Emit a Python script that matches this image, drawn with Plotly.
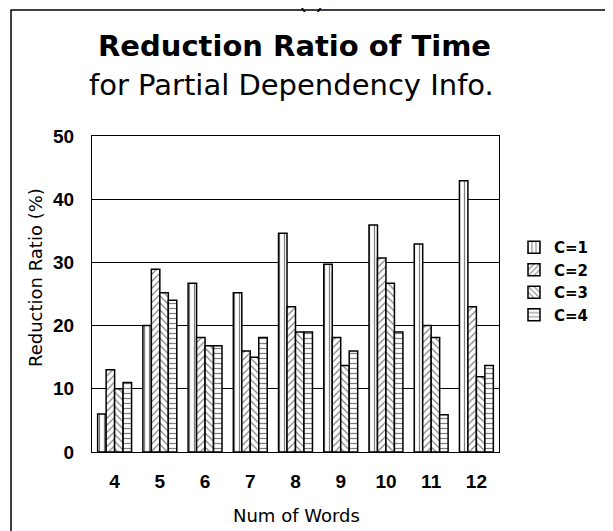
import plotly.graph_objects as go

categories = ["4", "5", "6", "7", "8", "9", "10", "11", "12"]
series_names = ["C=1", "C=2", "C=3", "C=4"]
c1 = [6, 20, 26.7, 25.2, 34.6, 29.7, 35.9, 32.9, 42.9]
c2 = [13, 28.9, 18.1, 16, 23, 18.1, 30.7, 20, 23]
c3 = [10, 25.2, 16.8, 15, 19, 13.7, 26.7, 18.1, 11.9]
c4 = [11, 24, 16.8, 18.1, 19, 16, 19, 5.9, 13.7]
series_values = [c1, c2, c3, c4]
patterns = ["|", "/", "\\", "-"]

FONT = "Liberation Sans, Arial, sans-serif"
DJ = "DejaVu Sans, sans-serif"

fig = go.Figure()
for name, vals, pat in zip(series_names, series_values, patterns):
    fig.add_trace(go.Bar(
        x=categories, y=vals, name=name,
        marker=dict(color="white",
                    line=dict(color="black", width=1.5),
                    pattern=dict(shape=pat, fgcolor="black", bgcolor="white",
                                 size=5, solidity=0.25, fillmode="overlay")),
    ))

# positions in viewport pixels; page body has an 8px margin
OFF = 8
L, R, T, B = 92, 499, 136, 452
W, H = 613, 531
pw, ph = R - L, B - T

def px(x):
    return (x - L) / pw

def py(y):
    return (B - y) / ph

fig.update_layout(
    width=W - OFF, height=H - OFF,
    margin=dict(l=L - OFF, r=W - R, t=T - OFF, b=H - B, pad=0),
    paper_bgcolor="white", plot_bgcolor="white",
    barmode="group", bargap=0.25, bargroupgap=0,
    font=dict(family=FONT, color="black"),
    showlegend=True,
    legend=dict(x=px(514), y=py(231), xanchor="left", yanchor="top",
                font=dict(size=15, family=DJ, weight="bold"),
                bgcolor="rgba(0,0,0,0)", tracegroupgap=0, itemwidth=30),
    xaxis=dict(showline=True, mirror=True, linecolor="black", linewidth=1,
               showgrid=False, ticks="", ticklabelstandoff=12,
               tickfont=dict(size=19, family=FONT, weight="bold")),
    yaxis=dict(range=[0, 50], dtick=10, showline=True, mirror=True,
               linecolor="black", linewidth=1, showgrid=True,
               gridcolor="black", gridwidth=1, ticks="", zeroline=False,
               ticklabelstandoff=13,
               tickfont=dict(size=19, family=FONT, weight="bold")),
    shapes=[dict(type="rect", xref="paper", yref="paper",
                 x0=px(11), x1=px(609), y0=py(560), y1=py(10),
                 line=dict(color="black", width=1.5), fillcolor="rgba(0,0,0,0)",
                 layer="below")],
    annotations=[
        dict(text="<b>Reduction Ratio of Time</b>", xref="paper", yref="paper",
             x=px(294), y=py(46), xanchor="center", yanchor="middle",
             showarrow=False, font=dict(size=29, family=DJ)),
        dict(text="for Partial Dependency Info.", xref="paper", yref="paper",
             x=px(291), y=py(85), xanchor="center", yanchor="middle",
             showarrow=False, font=dict(size=29, family=DJ)),
        dict(text="Reduction Ratio (%)", xref="paper", yref="paper",
             x=px(35), y=py(278), xanchor="center", yanchor="middle",
             textangle=-90, showarrow=False, font=dict(size=18, family=DJ)),
        dict(text="Num of Words", xref="paper", yref="paper",
             x=px(296), y=py(515), xanchor="center", yanchor="middle",
             showarrow=False, font=dict(size=18, family=DJ)),
        dict(text="(b)", xref="paper", yref="paper",
             x=px(311), y=py(1), xanchor="center", yanchor="middle",
             showarrow=False, font=dict(size=20, family=FONT)),
    ],
)

fig.write_html("out.html")
